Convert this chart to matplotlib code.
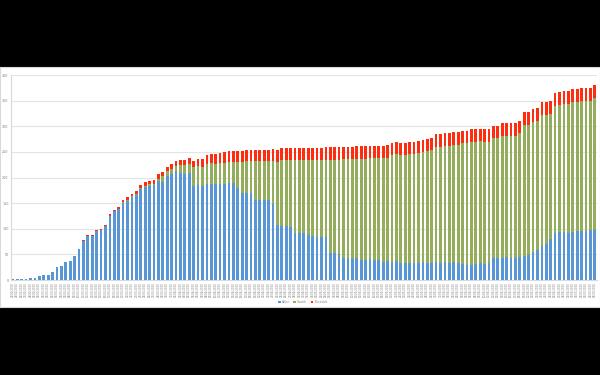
import matplotlib
matplotlib.use("Agg")
import matplotlib.pyplot as plt
import numpy as np
import pandas as pd

# ---- data ----
dates = list(pd.date_range("2020-02-24", periods=133, freq="D").strftime("%d/%m/%Y"))

active = [1, 1, 1, 2, 4, 4, 8, 9, 10, 15,
          25, 27, 35, 38, 47, 60, 77, 86, 86, 95,
          97, 106, 125, 134, 139, 150, 154, 161, 166, 177,
          181, 183,
          185, 194, 192, 202, 207, 213, 208, 207, 209, 183,
          185, 184, 188, 188, 187, 187, 187, 189, 189, 180,
          170, 170, 169, 157, 157, 157, 157, 149, 107,
          106, 106, 104, 92, 92, 91, 88, 86, 84, 84,
          84, 53, 52, 50, 43, 42, 41, 42, 40, 40,
          41, 40, 39, 36, 37, 35, 37, 34, 33, 34,
          33, 34, 35, 33, 34, 35, 34, 35, 34, 35,
          33, 31, 29, 30, 32, 33, 32, 33, 42, 43,
          42, 44, 42, 43, 44, 47, 48, 55, 58, 66,
          70, 80, 92, 93, 93, 92, 93, 95, 95, 96,
          97, 98]

recovered = [0, 0, 0, 0, 0, 0, 0, 0, 0, 0,
             0, 0, 0, 0, 0, 0, 0, 0, 0, 0,
             0, 0, 0, 0, 0, 2, 2, 2, 2, 3,
             3, 4,
             3, 4, 10, 10, 10, 10, 17, 18, 18, 37,
             37, 37, 39, 40, 40, 41, 42, 42, 42, 50,
             60, 62, 63, 75, 75, 75, 75, 83, 124,
             128, 129, 131, 143, 143, 144, 147, 149, 151, 151,
             151, 182, 183, 185, 193, 194, 195, 195, 197, 197,
             197, 198, 199, 202, 202, 209, 208, 210, 211, 212,
             213, 213, 214, 218, 219, 225, 226, 227, 228, 229,
             231, 236, 238, 240, 238, 238, 238, 237, 235, 234,
             239, 237, 239, 238, 242, 255, 254, 254, 253, 256,
             252, 244, 248, 248, 251, 252, 255, 253, 254, 254,
             253, 257]

deaths = [0, 0, 0, 0, 0, 0, 0, 0, 0, 0,
          0, 0, 0, 0, 0, 1, 1, 1, 1, 2,
          2, 2, 3, 3, 4, 4, 5, 5, 6, 6,
          7, 7,
          8, 8, 8, 8, 9, 9, 10, 10, 11, 13,
          15, 16, 16, 17, 18, 19, 20, 20, 21, 21,
          21, 21, 22, 22, 22, 22, 22, 23, 23,
          23, 23, 23, 23, 23, 23, 23, 23, 23, 23,
          24, 24, 24, 24, 24, 24, 24, 24, 24, 24,
          24, 24, 24, 24, 24, 24, 24, 24, 24, 24,
          24, 24, 24, 24, 24, 24, 24, 24, 24, 24,
          24, 24, 24, 24, 24, 24, 24, 24, 24, 24,
          25, 25, 25, 25, 25, 25, 25, 25, 25, 25,
          25, 25, 25, 25, 25, 25, 25, 25, 25, 25,
          25, 25]

series_names = ["Attivi", "Guariti", "Deceduti"]
y_ticks = [0, 50, 100, 150, 200, 250, 300, 350, 400]

# ---- styling ----
col_active = "#5896D6"
col_rec = "#93AD5C"
col_death = "#FF2D0F"
grid_col = "#E4E4E4"
txt_col = "#808080"

fig = plt.figure(figsize=(6, 3.75), dpi=100, facecolor="black")

# white chart area (letterboxed in black) drawn as a background axes
bgax = fig.add_axes([0.0, 1 - 307 / 375, 1.0, (307 - 67) / 375], zorder=0)
bgax.set_facecolor("white")
bgax.set_xticks([])
bgax.set_yticks([])
for s in bgax.spines.values():
    s.set_color("#D9D9D9")
    s.set_linewidth(0.8)

ax = fig.add_axes([10.7 / 600, 1 - 280 / 375, (597 - 10.7) / 600, (280 - 75) / 375], zorder=2)
ax.set_facecolor("none")

x = np.arange(len(active))
a = np.array(active)
r = np.array(recovered)
d = np.array(deaths)
w = 0.62
ax.bar(x, a, width=w, color=col_active, label=series_names[0], zorder=3)
ax.bar(x, r, width=w, bottom=a, color=col_rec, label=series_names[1], zorder=3)
ax.bar(x, d, width=w, bottom=a + r, color=col_death, label=series_names[2], zorder=3)

ax.set_xlim(-0.5, len(active) - 0.5)
ax.set_ylim(0, 400)
ax.set_yticks(y_ticks)
ax.set_yticklabels([str(v) for v in y_ticks], fontsize=2.4, color=txt_col)
ax.set_xticks(x)
ax.set_xticklabels(dates, rotation=90, fontsize=1.9, color=txt_col)
ax.tick_params(axis="both", length=0, pad=1.5)
ax.yaxis.grid(True, color=grid_col, linewidth=0.8, zorder=0)
ax.set_axisbelow(True)
for s in ["top", "right"]:
    ax.spines[s].set_visible(False)
ax.spines["left"].set_color("#D9D9D9")
ax.spines["bottom"].set_color("#D9D9D9")
ax.spines["left"].set_linewidth(0.8)
ax.spines["bottom"].set_linewidth(0.8)

handles, labels = ax.get_legend_handles_labels()
leg = fig.legend(handles, labels, loc="center", bbox_to_anchor=(0.505, 1 - 302 / 375),
                 ncol=3, frameon=False, fontsize=2.2, handlelength=0.7, handleheight=0.7,
                 handletextpad=0.4, columnspacing=1.3, labelcolor=txt_col)
leg.set_zorder(5)

fig.savefig("out.png", dpi=100, facecolor="black")
